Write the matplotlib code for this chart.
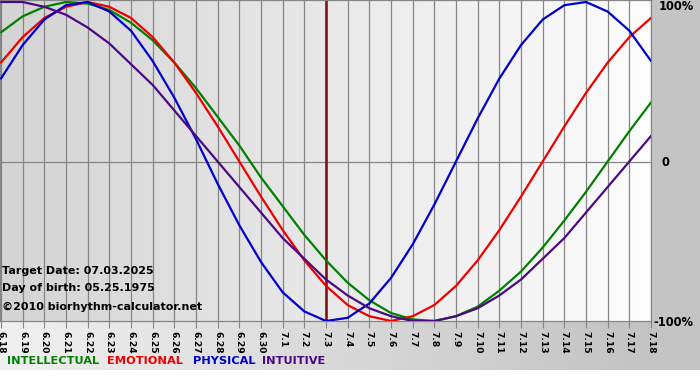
import numpy as np
import matplotlib
matplotlib.use("Agg")
import matplotlib.pyplot as plt
from matplotlib.colors import LinearSegmentedColormap

# ── Data (values in -1..1, one per day, 6.18 .. 7.18) ─────────────────────────
dates = ["6.18", "6.19", "6.20", "6.21", "6.22", "6.23", "6.24", "6.25", "6.26",
         "6.27", "6.28", "6.29", "6.30", "7.1", "7.2", "7.3", "7.4", "7.5", "7.6",
         "7.7", "7.8", "7.9", "7.10", "7.11", "7.12", "7.13", "7.14", "7.15",
         "7.16", "7.17", "7.18"]
target_idx = 15

intellectual = [0.81, 0.91, 0.97, 1.00, 0.99, 0.95, 0.87, 0.76, 0.62, 0.46, 0.28,
                0.10, -0.10, -0.28, -0.46, -0.62, -0.76, -0.87, -0.95, -0.99, -1.00,
                -0.97, -0.91, -0.81, -0.69, -0.54, -0.37, -0.19, 0.00, 0.19, 0.37]
emotional = [0.62, 0.78, 0.90, 0.97, 1.00, 0.97, 0.90, 0.78, 0.62, 0.43, 0.22,
             0.00, -0.22, -0.43, -0.62, -0.78, -0.90, -0.97, -1.00, -0.97, -0.90,
             -0.78, -0.62, -0.43, -0.22, 0.00, 0.22, 0.43, 0.62, 0.78, 0.90]
physical = [0.52, 0.73, 0.89, 0.98, 1.00, 0.94, 0.82, 0.63, 0.40, 0.14, -0.14,
            -0.40, -0.63, -0.82, -0.94, -1.00, -0.98, -0.89, -0.73, -0.52, -0.27,
            0.00, 0.27, 0.52, 0.73, 0.89, 0.98, 1.00, 0.94, 0.82, 0.63]
intuitive = [1.00, 1.00, 0.97, 0.92, 0.84, 0.74, 0.61, 0.48, 0.32, 0.16, 0.00,
             -0.16, -0.32, -0.48, -0.61, -0.74, -0.84, -0.92, -0.97, -1.00, -1.00,
             -0.97, -0.92, -0.84, -0.74, -0.61, -0.48, -0.32, -0.16, 0.00, 0.16]

series = [("INTELLECTUAL", intellectual, "#008000"),
          ("EMOTIONAL", emotional, "#ee0000"),
          ("PHYSICAL", physical, "#0000cc"),
          ("INTUITIVE", intuitive, "#4b0a82")]

W, H = 700, 380
fig = plt.figure(figsize=(7, 3.8), dpi=100, facecolor="white")

def fx(px): return px / W
def fy(py): return 1 - py / H

# ── Backgrounds ───────────────────────────────────────────────────────────────
bg = fig.add_axes([0, fy(370), 1, 370 / H])
bg.set_axis_off()
bg.imshow(np.linspace(0, 1, 256)[None, :], aspect="auto", extent=[0, 1, 0, 1],
          cmap=LinearSegmentedColormap.from_list("b", ["#f0f0f0", "#c0c0c0"]))
bg.set_xlim(0, 1); bg.set_ylim(0, 1)
bg.add_patch(plt.Rectangle((651 / W, 0), 1, 1, transform=bg.transAxes,
                           color="#c4c4c4", zorder=2))

# ── Plot area ─────────────────────────────────────────────────────────────────
ax = fig.add_axes([0, fy(321), fx(651), 321 / H])
x = np.arange(len(dates))
x0 = -1 / 21.67
ax.set_xlim(x0, len(dates) - 1)
ax.set_ylim(-1, 1 + 2 / 159.5)
ax.imshow(np.linspace(0, 1, 256)[None, :], aspect="auto",
          extent=[x0, len(dates) - 1, -1, 1.02], zorder=0,
          cmap=LinearSegmentedColormap.from_list("p", ["#d4d4d4", "#fdfdfd"]))

for xi in x:
    ax.axvline(xi, color="#858585", lw=0.9, zorder=1)
ax.axhline(0, color="#858585", lw=0.9, zorder=1)
ax.axvline(target_idx, color="#7a0c0c", lw=1.8, zorder=2)

for name, vals, col in series:
    ax.plot(x, vals, color=col, lw=1.6, zorder=3, solid_capstyle="round")

for s in ax.spines.values():
    s.set_color("#858585")
    s.set_linewidth(0.9)

ax.set_yticks([])
ax.set_xticks(x)
ax.set_xticklabels(dates, rotation=270, fontsize=6.6, fontweight="bold")
ax.tick_params(axis="x", direction="out", length=5, color="#858585", pad=2)

# ── Overlay text ──────────────────────────────────────────────────────────────
for txt, py in [("Target Date: 07.03.2025", 271), ("Day of birth: 05.25.1975", 288),
                ("©2010 biorhythm-calculator.net", 307)]:
    fig.text(fx(2), fy(py), txt, fontsize=8.0, fontweight="bold", va="center", ha="left")

for txt, px, py in [("100%", 659, 7), ("0", 661, 162), ("-100%", 653, 322)]:
    fig.text(fx(px), fy(py), txt, fontsize=8.3, fontweight="bold", va="center", ha="left")

# ── Legend row ────────────────────────────────────────────────────────────────
for (name, vals, col), px in zip(series, [7, 107, 193, 262]):
    fig.text(fx(px), fy(361), name, color=col, fontsize=8.2, fontweight="bold",
             va="center", ha="left")

fig.savefig("out.png", dpi=100)
